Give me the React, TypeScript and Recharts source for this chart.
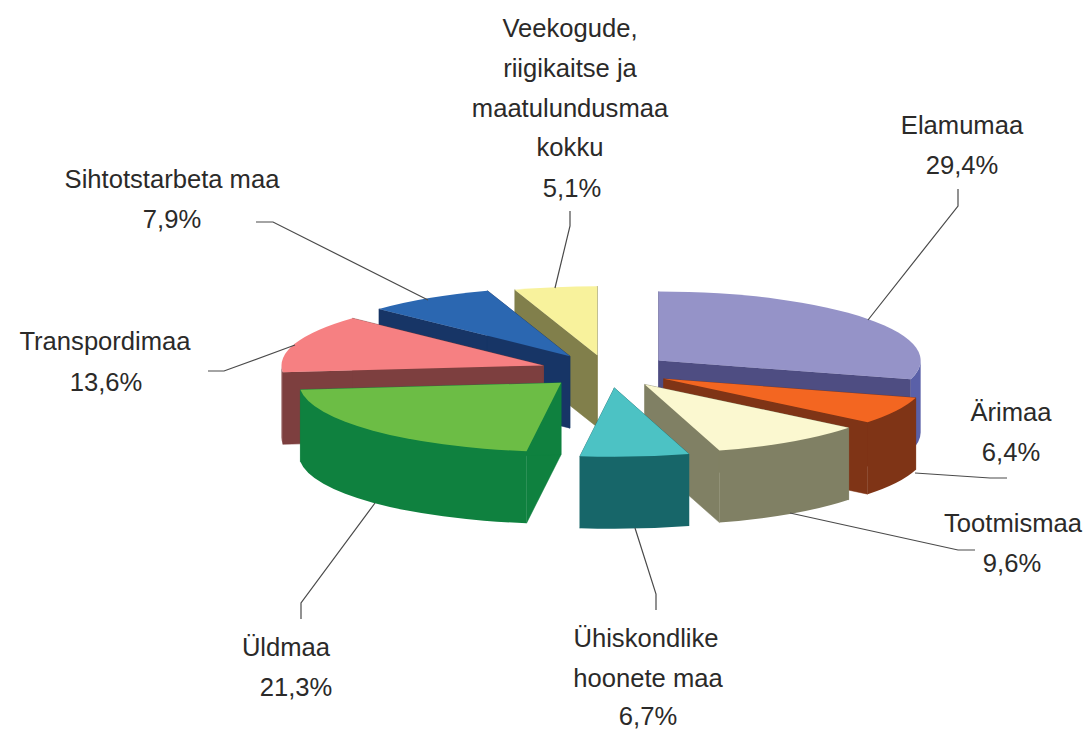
import { PieChart, Pie } from "recharts";

const NAMES = [
  "Elamumaa",
  "Ärimaa",
  "Tootmismaa",
  "Ühiskondlike hoonete maa",
  "Üldmaa",
  "Transpordimaa",
  "Sihtotstarbeta maa",
  "Veekogude, riigikaitse ja maatulundusmaa kokku",
];
const VALUES = [29.4, 6.4, 9.6, 6.7, 21.3, 13.6, 7.9, 5.1];

const TOP_COLORS = ["#9593c8", "#f36621", "#fbf8d0", "#4cc2c4", "#6cbd45", "#f68082", "#2b67b1", "#f8f29c"];
const FACE_COLORS = ["#4e4d82", "#7f3416", "#808064", "#176669", "#0f813f", "#7d3f3f", "#173566", "#817f4b"];
const WALL_COLORS = ["#5a60a8", "#7f3416", "#808064", "#176669", "#0f813f", "#7d3f3f", "#173566", "#817f4b"];

// back to front, slices are painted in this order
const DRAW_ORDER = [0, 7, 6, 5, 1, 2, 3, 4];
const EXPLODE = [66, 65, 66, 68, 64, 66, 67, 61];
// small sideways correction on top of the radial explode
const NUDGE_X = [0, 0, 2, 3, 1, 0, 0, 1];
const NUDGE_Y = [0, 0, -1, -1, 0, 0, 0, 0];

const RX = 262;
const RY = 69;
const DEPTH = 72;

const LABEL_LINES = [
  ["Elamumaa"],
  ["Ärimaa"],
  ["Tootmismaa"],
  ["Ühiskondlike", "hoonete maa"],
  ["Üldmaa"],
  ["Transpordimaa"],
  ["Sihtotstarbeta maa"],
  ["Veekogude,", "riigikaitse ja", "maatulundusmaa", "kokku"],
];
// [x, baseline] of every text row, the last row is the percentage
const LABEL_POS = [
  [[962, 134], [962, 174]],
  [[1011, 421], [1011, 461]],
  [[1013, 532], [1012, 572]],
  [[646, 647], [648, 687], [648, 725]],
  [[286, 656], [296, 696]],
  [[105, 350], [106, 391]],
  [[172, 188], [172, 228]],
  [[570, 37], [570, 77], [570, 117], [570, 156], [572, 197]],
];
const LEADERS = [
  "958,189 958,206 868,320",
  "915,473 990,478 1007,478",
  "790,513 958,550 975,550",
  "635,528 656,594 656,610",
  "375,503 301,603 301,619",
  "295,345 224,371 208,371",
  "428,300 273,222 256,222",
  "555,288 570,226 570,211",
];

const tableData = NAMES.map((name, i) => ({ name, value: VALUES[i], idx: i }));
const RAD = Math.PI / 180;

function Slice3D({ props, i }: { props: any; i: number }) {
  const { cx, cy, startAngle, endAngle } = props;
  const mid = ((startAngle + endAngle) / 2) * RAD;
  const ax = cx + EXPLODE[i] * Math.cos(mid) + NUDGE_X[i];
  const ay = cy - (EXPLODE[i] * RY * Math.sin(mid)) / RX + NUDGE_Y[i];
  const px = (a: number) => ax + RX * Math.cos(a * RAD);
  const py = (a: number) => ay - RY * Math.sin(a * RAD);
  const x1 = px(startAngle);
  const y1 = py(startAngle);
  const x2 = px(endAngle);
  const y2 = py(endAngle);
  const arc = `A${RX} ${RY} 0 0 1`;
  const arcBack = `A${RX} ${RY} 0 0 0`;
  const face = FACE_COLORS[i];
  // only the part of the rim that faces the viewer (0 to -180 degrees)
  const wallFrom = Math.min(startAngle, 0);
  const wallTo = Math.max(endAngle, -180);
  const hasWall = wallFrom > wallTo;
  return (
    <g>
      <path d={`M${ax} ${ay}L${x1} ${y1}L${x1} ${y1 + DEPTH}L${ax} ${ay + DEPTH}Z`} fill={face} stroke={face} strokeWidth={0.5} />
      <path d={`M${ax} ${ay}L${x2} ${y2}L${x2} ${y2 + DEPTH}L${ax} ${ay + DEPTH}Z`} fill={face} stroke={face} strokeWidth={0.5} />
      {hasWall && (
        <path
          d={`M${px(wallFrom)} ${py(wallFrom)}${arc} ${px(wallTo)} ${py(wallTo)}L${px(wallTo)} ${py(wallTo) + DEPTH}${arcBack} ${px(wallFrom)} ${py(wallFrom) + DEPTH}Z`}
          fill={WALL_COLORS[i]}
        />
      )}
      <path d={`M${ax} ${ay}L${x1} ${y1}${arc} ${x2} ${y2}Z`} fill={TOP_COLORS[i]} />
    </g>
  );
}

function renderLabel(props: any) {
  const i = props.index;
  const pct = VALUES[i].toFixed(1).replace(".", ",") + "%";
  const rows = [...LABEL_LINES[i], pct];
  return (
    <g key={i}>
      <polyline points={LEADERS[i]} fill="none" stroke="#4a4a4a" strokeWidth={1.2} />
      {rows.map((row, r) => (
        <text
          key={r}
          x={LABEL_POS[i][r][0]}
          y={LABEL_POS[i][r][1]}
          textAnchor="middle"
          fontFamily="Liberation Sans, Arial, sans-serif"
          fontSize={25.6}
          fill="#2b2a29"
        >
          {row}
        </text>
      ))}
    </g>
  );
}

const pieProps = {
  data: tableData,
  dataKey: "value",
  nameKey: "name",
  cx: 606,
  cy: 371,
  innerRadius: 0,
  outerRadius: RX,
  startAngle: 90,
  endAngle: -270,
  paddingAngle: 0,
  stroke: "none",
  isAnimationActive: false,
  labelLine: false,
};

export default function App() {
  return (
    <div style={{ position: "absolute", left: 0, top: 0, width: 1087, height: 729, background: "#fff" }}>
      <PieChart width={1087} height={729} margin={{ top: 0, right: 0, bottom: 0, left: 0 }}>
        {DRAW_ORDER.map((i) => (
          <Pie
            key={i}
            {...pieProps}
            shape={(p: any) => (p.idx === i ? <Slice3D props={p} i={i} /> : <g />)}
          />
        ))}
        <Pie {...pieProps} shape={() => <g />} label={renderLabel} />
      </PieChart>
    </div>
  );
}
